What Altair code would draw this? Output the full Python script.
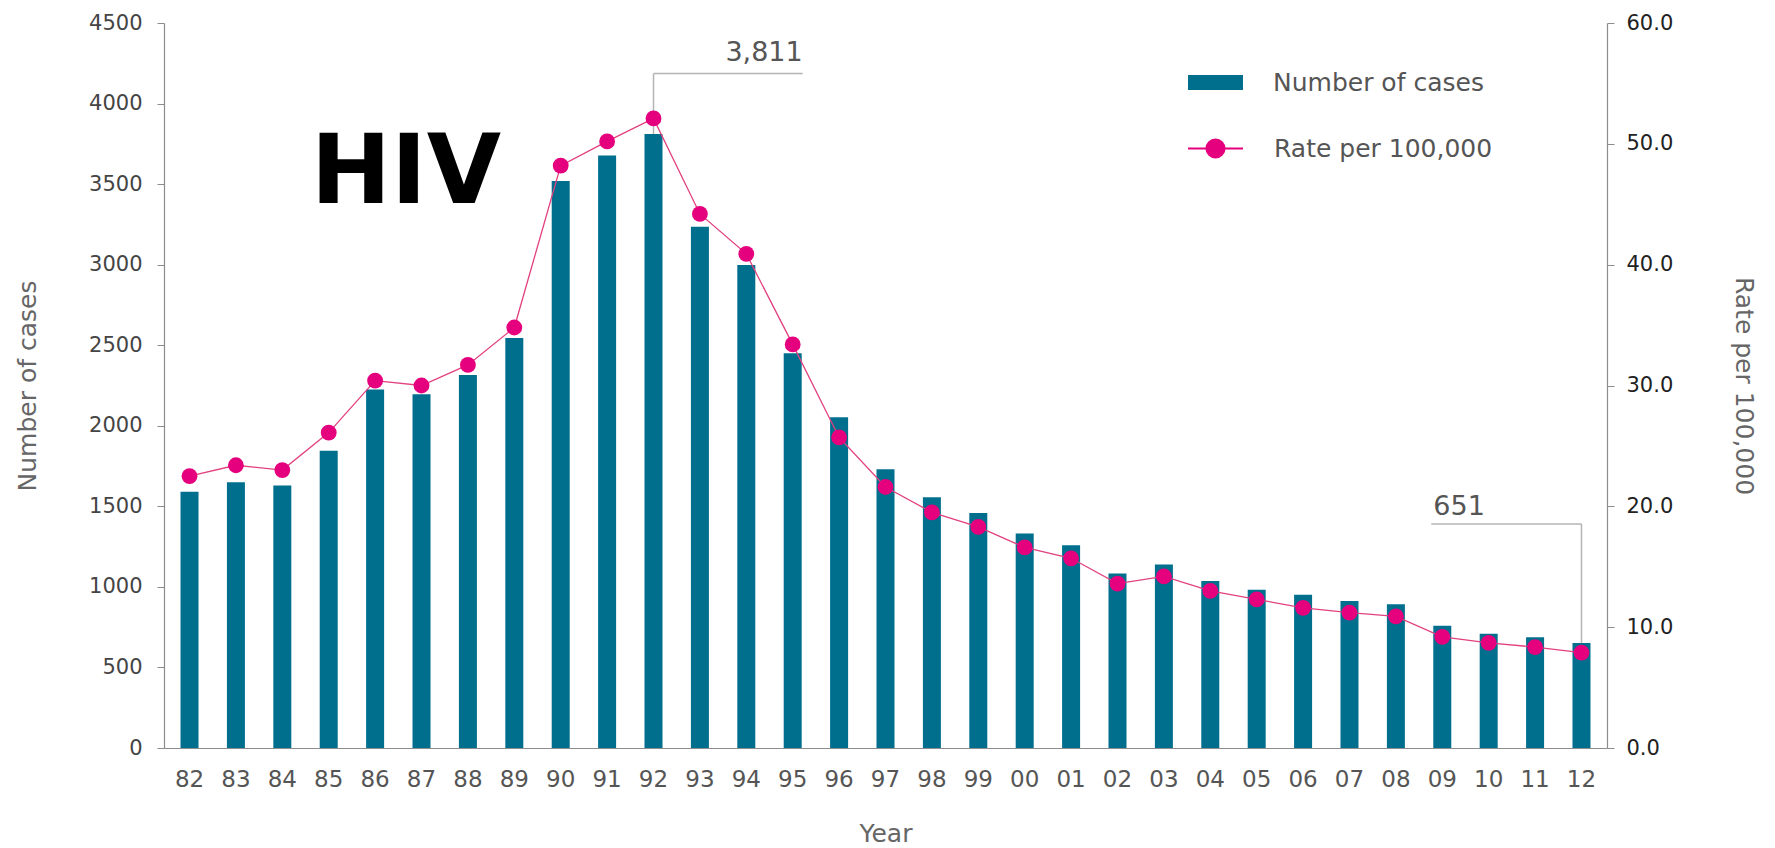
import altair as alt
import pandas as pd

years = ["82", "83", "84", "85", "86", "87", "88", "89", "90", "91", "92", "93",
         "94", "95", "96", "97", "98", "99", "00", "01", "02", "03", "04", "05",
         "06", "07", "08", "09", "10", "11", "12"]
cases = [1590, 1650, 1630, 1845, 2225, 2195, 2315, 2545, 3520, 3678, 3811, 3235,
         2998, 2450, 2053, 1730, 1557, 1459, 1331, 1259, 1083, 1139, 1036, 982,
         951, 912, 893, 759, 709, 688, 651]
rates = [22.5, 23.4, 23.0, 26.1, 30.4, 30.0, 31.7, 34.8, 48.2, 50.2, 52.1, 44.2,
         40.9, 33.4, 25.7, 21.6, 19.5, 18.3, 16.6, 15.7, 13.6, 14.2, 13.0, 12.3,
         11.6, 11.2, 10.9, 9.2, 8.7, 8.35, 7.9]

left_ticks = [0, 500, 1000, 1500, 2000, 2500, 3000, 3500, 4000, 4500]
right_ticks = [0, 10, 20, 30, 40, 50, 60]

# annotations (data units)
peak_year, peak_end_year, peak_value, peak_bracket, peak_text_y = "92", "95", 3811, 4186, 4265
last_year, last_start_year, last_value, last_bracket, last_text_y = "12", "09", 651, 1391, 1447
title_year, title_y = "85", 3380

TEAL = "#006F8E"
PINK = "#E5007D"
LINE_PINK = "#E2407F"
GREY = "#b4b4b4"
FONT = "DejaVu Sans"

df = pd.DataFrame({"Year": years, "Cases": cases, "Rate": rates,
                   "s1": "Number of cases", "s2": "Rate per 100,000"})

xscale = alt.Scale(domain=years, paddingInner=0.612, paddingOuter=0.356)
x_axis = alt.Axis(title="Year", labelAngle=0, ticks=False, tickSize=0, labelPadding=20,
                  labelFontSize=23, labelColor="#555", titleFontSize=25, titlePadding=30)


def X(field="Year"):
    return alt.X(f"{field}:N", scale=xscale, axis=x_axis, title="Year")


def YL(field):
    return alt.Y(f"{field}:Q", scale=alt.Scale(domain=[0, 4500], nice=False, zero=True), axis=None)


bars = alt.Chart(df).mark_bar().encode(
    x=X(),
    y=alt.Y("Cases:Q", scale=alt.Scale(domain=[0, 4500], nice=False),
            axis=alt.Axis(orient="left", title="Number of cases", values=left_ticks, format="d",
                          tickSize=7, labelPadding=15, labelFontSize=21,
                          titleFontSize=25, titlePadding=48)),
    color=alt.Color("s1:N", scale=alt.Scale(range=[TEAL]),
                    legend=alt.Legend(title=None, orient="none", legendX=1024, legendY=32,
                                      symbolType="M-1,-0.27H1V0.27H-1Z", symbolSize=3025,
                                      symbolStrokeWidth=0, labelFont=FONT, labelFontSize=25,
                                      labelColor="#555", labelOffset=30, labelLimit=400,
                                      padding=0)),
)

peak_v = pd.DataFrame({"Year": [peak_year], "y1": [peak_value], "y2": [peak_bracket]})
peak_h = pd.DataFrame({"Year": [peak_year], "Year2": [peak_end_year], "y": [peak_bracket]})
last_v = pd.DataFrame({"Year": [last_year], "y1": [last_value], "y2": [last_bracket]})
last_h = pd.DataFrame({"Year": [last_start_year], "Year2": [last_year], "y": [last_bracket]})

r1 = alt.Chart(peak_v).mark_rule(color=GREY, strokeWidth=1.5).encode(x=X(), y=YL("y1"), y2="y2:Q")
r2 = alt.Chart(peak_h).mark_rule(color=GREY, strokeWidth=1.5, x2Offset=10).encode(
    x=X(), x2="Year2:N", y=YL("y"))
r3 = alt.Chart(last_v).mark_rule(color=GREY, strokeWidth=1.5).encode(x=X(), y=YL("y1"), y2="y2:Q")
r4 = alt.Chart(last_h).mark_rule(color=GREY, strokeWidth=1.5, xOffset=-11).encode(
    x=X(), x2="Year2:N", y=YL("y"))

line = alt.Chart(df).mark_line(color=LINE_PINK, strokeWidth=1.3).encode(
    x=X(),
    y=alt.Y("Rate:Q", scale=alt.Scale(domain=[0, 60], nice=False),
            axis=alt.Axis(orient="right", title="Rate per 100,000", values=right_ticks, format=".1f",
                          tickSize=7, labelPadding=12, labelFontSize=21, labelColor="#222",
                          titleFontSize=25, titlePadding=58)),
)

points = alt.Chart(df).mark_circle(size=250, opacity=1).encode(
    x=X(),
    y=alt.Y("Rate:Q", scale=alt.Scale(domain=[0, 60], nice=False), axis=None),
    color=alt.Color("s2:N", scale=alt.Scale(range=[PINK]),
                    legend=alt.Legend(title=None, orient="none", legendX=1023, legendY=97,
                                      symbolType="M-1,0H1M0.33,0A0.33,0.33,0,1,1,-0.33,0A0.33,0.33,0,1,1,0.33,0Z",
                                      symbolSize=3025, symbolFillColor=PINK, symbolStrokeColor=PINK,
                                      symbolStrokeWidth=2, labelFont=FONT, labelFontSize=25,
                                      labelColor="#555", labelOffset=30, labelLimit=400,
                                      padding=0)),
)

peak_t = pd.DataFrame({"Year": [peak_end_year], "y": [peak_text_y], "label": ["3,811"]})
last_t = pd.DataFrame({"Year": [last_start_year], "y": [last_text_y], "label": ["651"]})
title_t = pd.DataFrame({"Year": [title_year], "y": [title_y], "label": ["HIV"]})

t1 = alt.Chart(peak_t).mark_text(align="right", baseline="alphabetic", dx=10, font=FONT,
                                 fontSize=27, color="#555").encode(x=X(), y=YL("y"), text="label:N")
t2 = alt.Chart(last_t).mark_text(align="left", baseline="alphabetic", dx=-9, font=FONT,
                                 fontSize=27, color="#555").encode(x=X(), y=YL("y"), text="label:N")
t3 = alt.Chart(title_t).mark_text(align="left", baseline="alphabetic", dx=-18, font=FONT,
                                  fontSize=96, fontWeight="bold", color="#000").encode(
    x=X(), y=YL("y"), text="label:N")

chart = alt.layer(bars, r1, r2, r3, r4, line, points, t1, t2, t3).resolve_scale(
    y="independent", color="independent"
).properties(
    width=1443, height=725,
    padding={"left": 164, "top": 23, "right": 168, "bottom": 100},
    autosize=alt.AutoSizeParams(type="none"),
    background="white",
).configure_view(stroke=None).configure_axis(
    grid=False, domainColor="#8c8c8c", tickColor="#8c8c8c", domainWidth=1.2,
    labelFont=FONT, labelColor="#444", titleFont=FONT, titleColor="#666",
    titleFontWeight="normal",
)

chart.save("out.html", embed_options={"renderer": "svg", "actions": False})
